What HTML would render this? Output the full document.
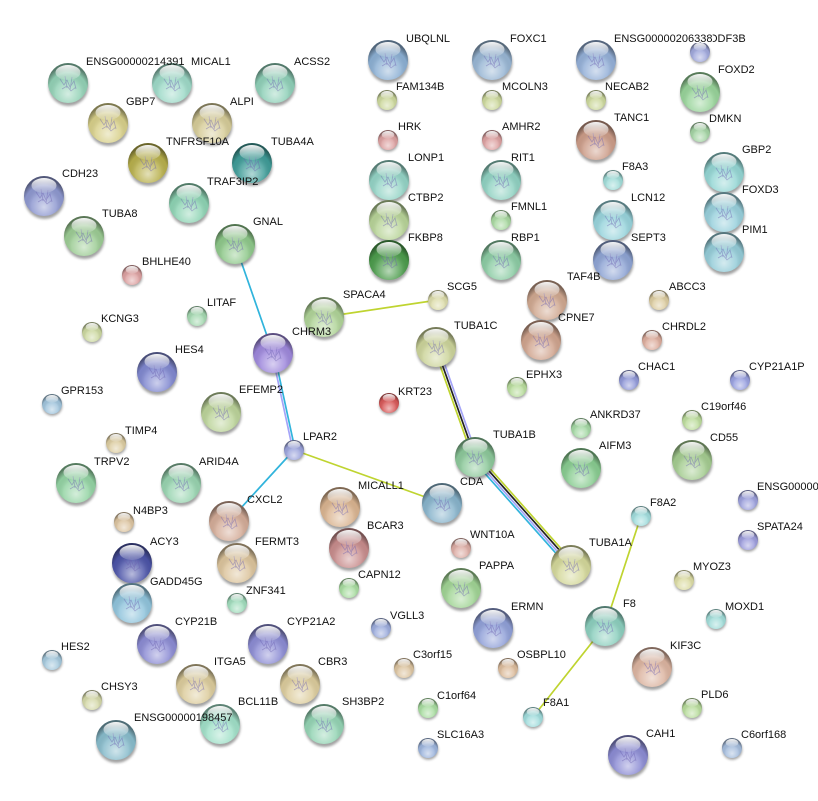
<!DOCTYPE html>
<html><head><meta charset="utf-8"><style>
html,body{margin:0;padding:0;background:#fff;}
svg{display:block;}
text{font-family:"Liberation Sans",Arial,sans-serif;font-size:11px;fill:#111;dominant-baseline:central;}
</style></head><body>
<svg width="818" height="801" viewBox="0 0 818 801" xmlns="http://www.w3.org/2000/svg">
<defs>
<radialGradient id="ov" cx="50%" cy="70%" r="62%" fx="50%" fy="78%">
<stop offset="0" stop-color="#fff" stop-opacity=".6"/>
<stop offset=".5" stop-color="#fff" stop-opacity=".15"/>
<stop offset=".78" stop-color="#000" stop-opacity=".04"/>
<stop offset="1" stop-color="#000" stop-opacity=".42"/>
</radialGradient>
<linearGradient id="hl" x1="0" y1="0" x2="0" y2="1">
<stop offset="0" stop-color="#fff" stop-opacity=".95"/>
<stop offset="1" stop-color="#fff" stop-opacity=".12"/>
</linearGradient>
<filter id="bl" x="-30%" y="-30%" width="160%" height="160%"><feGaussianBlur stdDeviation="1.3"/></filter>
<g id="B">
<circle cx="0.5" cy="3" r="20" fill="#333" opacity=".45" filter="url(#bl)"/>
<circle r="20" fill="currentColor"/>
<circle r="20" fill="url(#ov)"/>
<g fill="none" stroke="#6a5fb0" stroke-width=".8" opacity=".45">
<path d="M-8,-4 l4,6 l3,-5 l3,7 l4,-6 l2,8 M-6,6 l5,-3 l4,5 l5,-4 M-3,-7 l2,12 M4,-6 l-2,13"/>
</g>
<ellipse cy="-10.5" rx="12.5" ry="7.5" fill="url(#hl)"/>
</g>
<g id="S">
<circle cx="0.3" cy="1.8" r="10" fill="#333" opacity=".45" filter="url(#bl)"/>
<circle r="10" fill="currentColor"/>
<circle r="10" fill="url(#ov)"/>
<ellipse cy="-5.2" rx="6.3" ry="3.8" fill="url(#hl)"/>
</g>
</defs>

<!-- edges -->
<g stroke-width="1.7" fill="none" stroke-linecap="round">
<line x1="235" y1="244" x2="273" y2="353" stroke="#31b4dc"/>
<line x1="271.9" y1="353.2" x2="292.9" y2="450.2" stroke="#a4a4f8"/>
<line x1="274.1" y1="352.8" x2="295.1" y2="449.8" stroke="#31b4dc"/>
<line x1="294" y1="450" x2="229" y2="521" stroke="#31b4dc"/>
<line x1="294" y1="450" x2="442" y2="503" stroke="#bfd430"/>
<line x1="324" y1="317" x2="438" y2="300" stroke="#bfd430"/>
<line x1="433.8" y1="347.8" x2="472.8" y2="457.8" stroke="#bfd430"/>
<line x1="436" y1="347" x2="475" y2="457" stroke="#222"/>
<line x1="438.2" y1="346.2" x2="477.2" y2="456.2" stroke="#a4a4f8"/>
<line x1="472.4" y1="459.3" x2="568.4" y2="567.3" stroke="#31b4dc"/>
<line x1="474.1" y1="457.8" x2="570.1" y2="565.8" stroke="#a4a4f8"/>
<line x1="475.9" y1="456.2" x2="571.9" y2="564.2" stroke="#222"/>
<line x1="477.6" y1="454.7" x2="573.6" y2="562.7" stroke="#bfd430"/>
<line x1="641" y1="516" x2="605" y2="626" stroke="#bfd430"/>
<line x1="605" y1="626" x2="533" y2="717" stroke="#bfd430"/>
</g>

<!-- big nodes -->
<use href="#B" x="68" y="83" color="#93d2b6"/>
<use href="#B" x="172" y="83" color="#9edac8"/>
<use href="#B" x="275" y="83" color="#8fd0b8"/>
<use href="#B" x="108" y="123" color="#d8d08a"/>
<use href="#B" x="212" y="123" color="#d6cc98"/>
<use href="#B" x="148" y="163" color="#b8b04c"/>
<use href="#B" x="252" y="163" color="#3f9c98"/>
<use href="#B" x="44" y="196" color="#8e98d0"/>
<use href="#B" x="189" y="203" color="#8ed4b4"/>
<use href="#B" x="84" y="236" color="#9ccc94"/>
<use href="#B" x="235" y="244" color="#8ec88a"/>
<use href="#B" x="388" y="60" color="#8cb0d4"/>
<use href="#B" x="492" y="60" color="#98b6d4"/>
<use href="#B" x="389" y="180" color="#94d4c6"/>
<use href="#B" x="501" y="180" color="#90d2c2"/>
<use href="#B" x="389" y="220" color="#b8d498"/>
<use href="#B" x="389" y="260" color="#4c9c4c"/>
<use href="#B" x="501" y="260" color="#8ccca4"/>
<use href="#B" x="596" y="60" color="#94b0d8"/>
<use href="#B" x="700" y="92" color="#98d49a"/>
<use href="#B" x="596" y="140" color="#cc9c88"/>
<use href="#B" x="724" y="172" color="#94d6d4"/>
<use href="#B" x="613" y="220" color="#98d4dc"/>
<use href="#B" x="724" y="212" color="#98d0dc"/>
<use href="#B" x="613" y="260" color="#8ea4d4"/>
<use href="#B" x="724" y="252" color="#94ccd8"/>
<use href="#B" x="547" y="300" color="#d0a890"/>
<use href="#B" x="541" y="340" color="#d0a48e"/>
<use href="#B" x="324" y="317" color="#b0d498"/>
<use href="#B" x="273" y="353" color="#9e88dc"/>
<use href="#B" x="436" y="347" color="#ccd49a"/>
<use href="#B" x="157" y="372" color="#8088d0"/>
<use href="#B" x="221" y="412" color="#bcd49a"/>
<use href="#B" x="475" y="457" color="#8cc89a"/>
<use href="#B" x="442" y="503" color="#88b4cc"/>
<use href="#B" x="340" y="507" color="#dab490"/>
<use href="#B" x="581" y="468" color="#88cc90"/>
<use href="#B" x="692" y="460" color="#a4cc90"/>
<use href="#B" x="76" y="483" color="#94d4a4"/>
<use href="#B" x="181" y="483" color="#98d4b0"/>
<use href="#B" x="229" y="521" color="#d4ac98"/>
<use href="#B" x="349" y="548" color="#c88c8c"/>
<use href="#B" x="132" y="563" color="#4c54a8"/>
<use href="#B" x="237" y="563" color="#dcc49c"/>
<use href="#B" x="132" y="603" color="#90c4dc"/>
<use href="#B" x="461" y="588" color="#a0d494"/>
<use href="#B" x="571" y="565" color="#d4d89a"/>
<use href="#B" x="157" y="644" color="#8c8cd4"/>
<use href="#B" x="268" y="644" color="#8c8cd4"/>
<use href="#B" x="493" y="628" color="#90a0d8"/>
<use href="#B" x="605" y="626" color="#8ccfbe"/>
<use href="#B" x="196" y="684" color="#dccc9c"/>
<use href="#B" x="300" y="684" color="#dccc9c"/>
<use href="#B" x="652" y="667" color="#dcb4a0"/>
<use href="#B" x="220" y="724" color="#a0e0c8"/>
<use href="#B" x="116" y="740" color="#88bccc"/>
<use href="#B" x="324" y="724" color="#94d4b4"/>
<use href="#B" x="628" y="755" color="#8c8cd4"/>

<!-- small nodes -->
<use href="#S" x="387" y="100" color="#ccd89c"/>
<use href="#S" x="492" y="100" color="#ccd89c"/>
<use href="#S" x="388" y="140" color="#dca0a0"/>
<use href="#S" x="492" y="140" color="#dca0a0"/>
<use href="#S" x="501" y="220" color="#a8d8a0"/>
<use href="#S" x="700" y="52" color="#a0a8dc"/>
<use href="#S" x="596" y="100" color="#ccd89c"/>
<use href="#S" x="700" y="132" color="#a4d4a4"/>
<use href="#S" x="613" y="180" color="#a0dcd8"/>
<use href="#S" x="132" y="275" color="#dca0a0"/>
<use href="#S" x="197" y="316" color="#a4d8b0"/>
<use href="#S" x="92" y="332" color="#ccd8a0"/>
<use href="#S" x="438" y="300" color="#dcdcaa"/>
<use href="#S" x="659" y="300" color="#dccca0"/>
<use href="#S" x="652" y="340" color="#dcac9c"/>
<use href="#S" x="629" y="380" color="#9098d8"/>
<use href="#S" x="740" y="380" color="#98a0e0"/>
<use href="#S" x="517" y="387" color="#b8dc9c"/>
<use href="#S" x="389" y="403" color="#d85858"/>
<use href="#S" x="52" y="404" color="#a0c4dc"/>
<use href="#S" x="692" y="420" color="#bcdc9c"/>
<use href="#S" x="581" y="428" color="#a4d8a4"/>
<use href="#S" x="116" y="443" color="#dccca0"/>
<use href="#S" x="294" y="450" color="#9ca4dc"/>
<use href="#S" x="748" y="500" color="#9ca0dc"/>
<use href="#S" x="641" y="516" color="#a0dcdc"/>
<use href="#S" x="124" y="522" color="#dcc4a0"/>
<use href="#S" x="748" y="540" color="#9c9cdc"/>
<use href="#S" x="461" y="548" color="#dcaca4"/>
<use href="#S" x="349" y="588" color="#a8dca0"/>
<use href="#S" x="684" y="580" color="#dcdca4"/>
<use href="#S" x="237" y="603" color="#a0dcbc"/>
<use href="#S" x="381" y="628" color="#9cacdc"/>
<use href="#S" x="716" y="619" color="#a0dcd8"/>
<use href="#S" x="52" y="660" color="#a4c8dc"/>
<use href="#S" x="404" y="668" color="#dcc4a0"/>
<use href="#S" x="508" y="668" color="#dcbc9c"/>
<use href="#S" x="92" y="700" color="#d4d8a8"/>
<use href="#S" x="428" y="708" color="#a8dca0"/>
<use href="#S" x="692" y="708" color="#b8dc9c"/>
<use href="#S" x="533" y="717" color="#a0dcdc"/>
<use href="#S" x="428" y="748" color="#9cb4dc"/>
<use href="#S" x="732" y="748" color="#a4bcdc"/>

<!-- labels -->
<text x="86" y="62">ENSG00000214391</text>
<text x="191" y="62">MICAL1</text>
<text x="294" y="62">ACSS2</text>
<text x="126" y="102">GBP7</text>
<text x="230" y="102">ALPI</text>
<text x="166" y="142">TNFRSF10A</text>
<text x="271" y="142">TUBA4A</text>
<text x="62" y="174">CDH23</text>
<text x="207" y="182">TRAF3IP2</text>
<text x="102" y="214">TUBA8</text>
<text x="253" y="222">GNAL</text>
<text x="406" y="39">UBQLNL</text>
<text x="510" y="39">FOXC1</text>
<text x="408" y="158">LONP1</text>
<text x="511" y="158">RIT1</text>
<text x="408" y="198">CTBP2</text>
<text x="408" y="238">FKBP8</text>
<text x="511" y="238">RBP1</text>
<text x="709" y="39">ODF3B</text>
<text x="614" y="39" style="stroke:#fff;stroke-width:2.5;paint-order:stroke;stroke-linejoin:round">ENSG00000206338</text>
<text x="718" y="70">FOXD2</text>
<text x="614" y="118">TANC1</text>
<text x="742" y="150">GBP2</text>
<text x="631" y="198">LCN12</text>
<text x="742" y="190">FOXD3</text>
<text x="631" y="238">SEPT3</text>
<text x="742" y="230">PIM1</text>
<text x="567" y="277">TAF4B</text>
<text x="558" y="318">CPNE7</text>
<text x="343" y="295">SPACA4</text>
<text x="292" y="332">CHRM3</text>
<text x="454" y="326">TUBA1C</text>
<text x="175" y="350">HES4</text>
<text x="239" y="390">EFEMP2</text>
<text x="493" y="435">TUBA1B</text>
<text x="460" y="482">CDA</text>
<text x="358" y="486">MICALL1</text>
<text x="599" y="446">AIFM3</text>
<text x="710" y="438">CD55</text>
<text x="94" y="462">TRPV2</text>
<text x="199" y="462">ARID4A</text>
<text x="247" y="500">CXCL2</text>
<text x="367" y="526">BCAR3</text>
<text x="150" y="542">ACY3</text>
<text x="255" y="542">FERMT3</text>
<text x="150" y="582">GADD45G</text>
<text x="479" y="566">PAPPA</text>
<text x="589" y="543">TUBA1A</text>
<text x="175" y="622">CYP21B</text>
<text x="287" y="622">CYP21A2</text>
<text x="511" y="607">ERMN</text>
<text x="623" y="604">F8</text>
<text x="214" y="662">ITGA5</text>
<text x="318" y="662">CBR3</text>
<text x="670" y="646">KIF3C</text>
<text x="238" y="702">BCL11B</text>
<text x="134" y="718">ENSG00000198457</text>
<text x="342" y="702">SH3BP2</text>
<text x="646" y="734">CAH1</text>
<text x="396" y="87">FAM134B</text>
<text x="502" y="87">MCOLN3</text>
<text x="398" y="127">HRK</text>
<text x="502" y="127">AMHR2</text>
<text x="511" y="207">FMNL1</text>
<text x="605" y="87">NECAB2</text>
<text x="709" y="119">DMKN</text>
<text x="622" y="167">F8A3</text>
<text x="142" y="262">BHLHE40</text>
<text x="207" y="303">LITAF</text>
<text x="101" y="319">KCNG3</text>
<text x="447" y="287">SCG5</text>
<text x="669" y="287">ABCC3</text>
<text x="662" y="327">CHRDL2</text>
<text x="638" y="367">CHAC1</text>
<text x="749" y="367">CYP21A1P</text>
<text x="526" y="375">EPHX3</text>
<text x="398" y="392">KRT23</text>
<text x="61" y="391">GPR153</text>
<text x="701" y="407">C19orf46</text>
<text x="590" y="415">ANKRD37</text>
<text x="125" y="431">TIMP4</text>
<text x="303" y="437">LPAR2</text>
<text x="757" y="487">ENSG00000</text>
<text x="650" y="503">F8A2</text>
<text x="133" y="511">N4BP3</text>
<text x="757" y="527">SPATA24</text>
<text x="470" y="535">WNT10A</text>
<text x="358" y="575">CAPN12</text>
<text x="693" y="567">MYOZ3</text>
<text x="246" y="591">ZNF341</text>
<text x="390" y="616">VGLL3</text>
<text x="725" y="607">MOXD1</text>
<text x="61" y="647">HES2</text>
<text x="413" y="655">C3orf15</text>
<text x="517" y="655">OSBPL10</text>
<text x="101" y="687">CHSY3</text>
<text x="437" y="696">C1orf64</text>
<text x="701" y="695">PLD6</text>
<text x="543" y="703">F8A1</text>
<text x="437" y="735">SLC16A3</text>
<text x="741" y="735">C6orf168</text>
</svg>
</body></html>
